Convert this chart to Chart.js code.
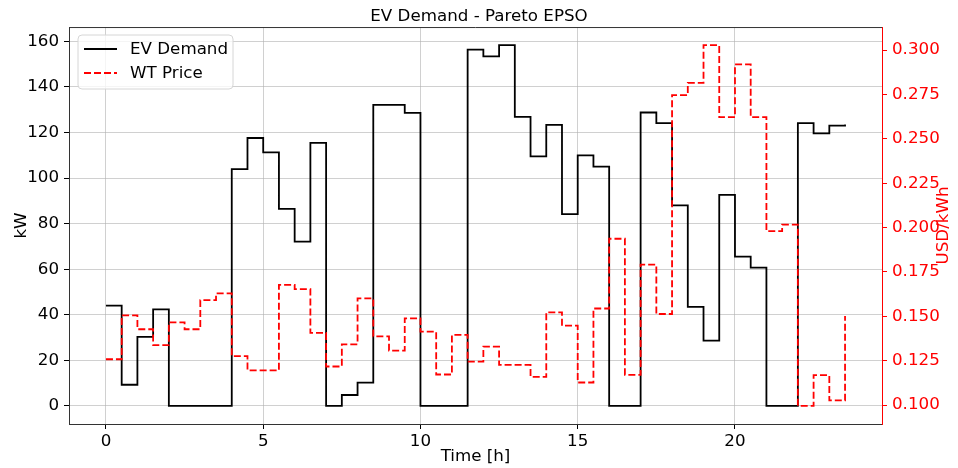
<!DOCTYPE html>
<html>
<head>
<meta charset="utf-8">
<script src="https://cdn.jsdelivr.net/npm/chart.js@4"></script>
<style>
    html, body { margin: 0; padding: 0; background: #ffffff; }
</style>
</head>
<body>
<canvas id="myChart" width="958" height="468"></canvas>
<script>
// half-hour time steps
var hours = [0, 0.5, 1, 1.5, 2, 2.5, 3, 3.5, 4, 4.5, 5, 5.5, 6, 6.5, 7, 7.5,
    8, 8.5, 9, 9.5, 10, 10.5, 11, 11.5, 12, 12.5, 13, 13.5, 14, 14.5, 15, 15.5,
    16, 16.5, 17, 17.5, 18, 18.5, 19, 19.5, 20, 20.5, 21, 21.5, 22, 22.5, 23, 23.5];

var evDemand = [44.0, 9.3, 30.3, 42.4, 0, 0, 0, 0, 103.9, 117.6, 111.3, 86.5, 72.1, 115.5, 0, 4.8,
    10.2, 132.1, 132.1, 128.6, 0, 0, 0, 156.4, 153.4, 158.4, 126.9, 109.5, 123.4, 84.2, 110.0, 105.0,
    0, 0, 128.8, 124.1, 88.0, 43.5, 28.7, 92.6, 65.5, 60.7, 0, 0, 124.1, 119.6, 123.0, 123.5];

var wtPrice = [0.1258, 0.1505, 0.1427, 0.1337, 0.1466, 0.1427, 0.1591, 0.1629, 0.1275, 0.1195, 0.1195, 0.1677, 0.1653, 0.1406, 0.1217, 0.1342,
    0.1601, 0.1387, 0.1307, 0.1488, 0.1413, 0.1172, 0.1395, 0.1245, 0.1329, 0.1226, 0.1226, 0.1159, 0.1522, 0.1447, 0.1127, 0.1544,
    0.1937, 0.1170, 0.1791, 0.1513, 0.2746, 0.2815, 0.3028, 0.2622, 0.2920, 0.2622, 0.1980, 0.2016, 0.0995, 0.1168, 0.1026, 0.1501];

var hourTicks = [0, 5, 10, 15, 20];
var kwTicks = [0, 20, 40, 60, 80, 100, 120, 140, 160];
var priceTicks = [0.100, 0.125, 0.150, 0.175, 0.200, 0.225, 0.250, 0.275, 0.300];

var FONT = 'DejaVu Sans';
var FS = 16.7;

function toPoints(ys) {
    return hours.map(function(h, i) { return { x: h, y: ys[i] }; });
}

function fixedTicks(list) {
    return function(axis) {
        axis.ticks = list.map(function(v) { return { value: v }; });
    };
}

// top spine, right axis label and legend box, like matplotlib
var framePlugin = {
    id: 'framePlugin',
    afterDraw: function(chart) {
        var ctx = chart.ctx;
        var a = chart.chartArea;
        ctx.save();
        ctx.strokeStyle = '#333333';
        ctx.lineWidth = 1;
        ctx.beginPath();
        ctx.moveTo(a.left, a.top + 0.5);
        ctx.lineTo(a.right, a.top + 0.5);
        ctx.stroke();

        // right axis title, reading bottom to top
        ctx.save();
        ctx.translate(944, (a.top + a.bottom) / 2);
        ctx.rotate(-Math.PI / 2);
        ctx.fillStyle = '#ff0000';
        ctx.font = FS + 'px "' + FONT + '"';
        ctx.textAlign = 'center';
        ctx.textBaseline = 'middle';
        ctx.fillText('USD/kWh', 0, 0);
        ctx.restore();

        // legend
        var bx = 78, by = 35, bw = 155, bh = 54, r = 4;
        ctx.fillStyle = 'rgba(255,255,255,0.8)';
        ctx.strokeStyle = '#d6d6d6';
        ctx.lineWidth = 1;
        ctx.beginPath();
        ctx.moveTo(bx + r, by);
        ctx.arcTo(bx + bw, by, bx + bw, by + bh, r);
        ctx.arcTo(bx + bw, by + bh, bx, by + bh, r);
        ctx.arcTo(bx, by + bh, bx, by, r);
        ctx.arcTo(bx, by, bx + bw, by, r);
        ctx.closePath();
        ctx.fill();
        ctx.stroke();

        var rows = [49, 73];
        chart.data.datasets.forEach(function(ds) {
            var y = rows[ds.legendRow];
            ctx.strokeStyle = ds.borderColor;
            ctx.lineWidth = ds.borderWidth;
            ctx.setLineDash(ds.borderDash || []);
            ctx.beginPath();
            ctx.moveTo(84, y);
            ctx.lineTo(117, y);
            ctx.stroke();
            ctx.setLineDash([]);
            ctx.fillStyle = '#000000';
            ctx.font = FS + 'px "' + FONT + '"';
            ctx.textBaseline = 'middle';
            ctx.textAlign = 'left';
            ctx.fillText(ds.label, 130, y + 1);
        });
        ctx.restore();
    }
};

var ctx = document.getElementById('myChart').getContext('2d');

var myChart = new Chart(ctx, {
    type: 'line',
    data: {
        datasets: [{
            label: 'EV Demand',
            data: toPoints(evDemand),
            yAxisID: 'y',
            borderColor: '#000000',
            borderWidth: 1.8,
            stepped: 'before',
            pointRadius: 0,
            fill: false,
            order: 1,
            legendRow: 0
        }, {
            label: 'WT Price',
            data: toPoints(wtPrice),
            yAxisID: 'y1',
            borderColor: '#ff0000',
            borderWidth: 1.8,
            borderDash: [7, 3],
            stepped: 'before',
            pointRadius: 0,
            fill: false,
            order: 0,
            legendRow: 1
        }]
    },
    options: {
        responsive: false,
        animation: false,
        devicePixelRatio: 1,
        layout: { padding: 0 },
        plugins: {
            legend: { display: false },
            tooltip: { enabled: false },
            title: {
                display: true,
                text: 'EV Demand - Pareto EPSO',
                color: '#000000',
                font: { family: FONT, size: FS, weight: 'normal' },
                padding: { top: 7, bottom: 0 }
            }
        },
        scales: {
            x: {
                type: 'linear',
                min: -1.175,
                max: 24.675,
                afterBuildTicks: fixedTicks(hourTicks),
                afterFit: function(axis) { axis.height = 44; },
                grid: { color: 'rgba(176,176,176,0.6)', tickColor: '#000000', tickLength: 5 },
                border: { color: '#333333', width: 1 },
                ticks: {
                    color: '#000000', padding: 3, maxRotation: 0,
                    font: { family: FONT, size: FS }
                },
                title: {
                    display: true, text: 'Time [h]', color: '#000000',
                    font: { family: FONT, size: FS },
                    padding: { top: 0, bottom: 1 }
                }
            },
            y: {
                position: 'left',
                min: -7.92,
                max: 166.3,
                afterBuildTicks: fixedTicks(kwTicks),
                afterFit: function(axis) { axis.width = 69; },
                grid: { color: 'rgba(176,176,176,0.6)', tickColor: '#000000', tickLength: 5 },
                border: { color: '#333333', width: 1 },
                ticks: {
                    color: '#000000', padding: 5,
                    font: { family: FONT, size: FS }
                },
                title: {
                    display: true, text: 'kW', color: '#000000',
                    font: { family: FONT, size: FS },
                    padding: { top: 12, bottom: 0 }
                }
            },
            y1: {
                position: 'right',
                min: 0.0893,
                max: 0.3130,
                afterBuildTicks: fixedTicks(priceTicks),
                afterFit: function(axis) { axis.width = 76; },
                grid: { drawOnChartArea: false, tickColor: '#ff0000', tickLength: 5 },
                border: { color: '#ff0000', width: 1 },
                ticks: {
                    color: '#ff0000', padding: 5,
                    font: { family: FONT, size: FS },
                    callback: function(v) { return v.toFixed(3); }
                },
                title: { display: false }
            }
        }
    },
    plugins: [framePlugin]
});
</script>
</body>
</html>
